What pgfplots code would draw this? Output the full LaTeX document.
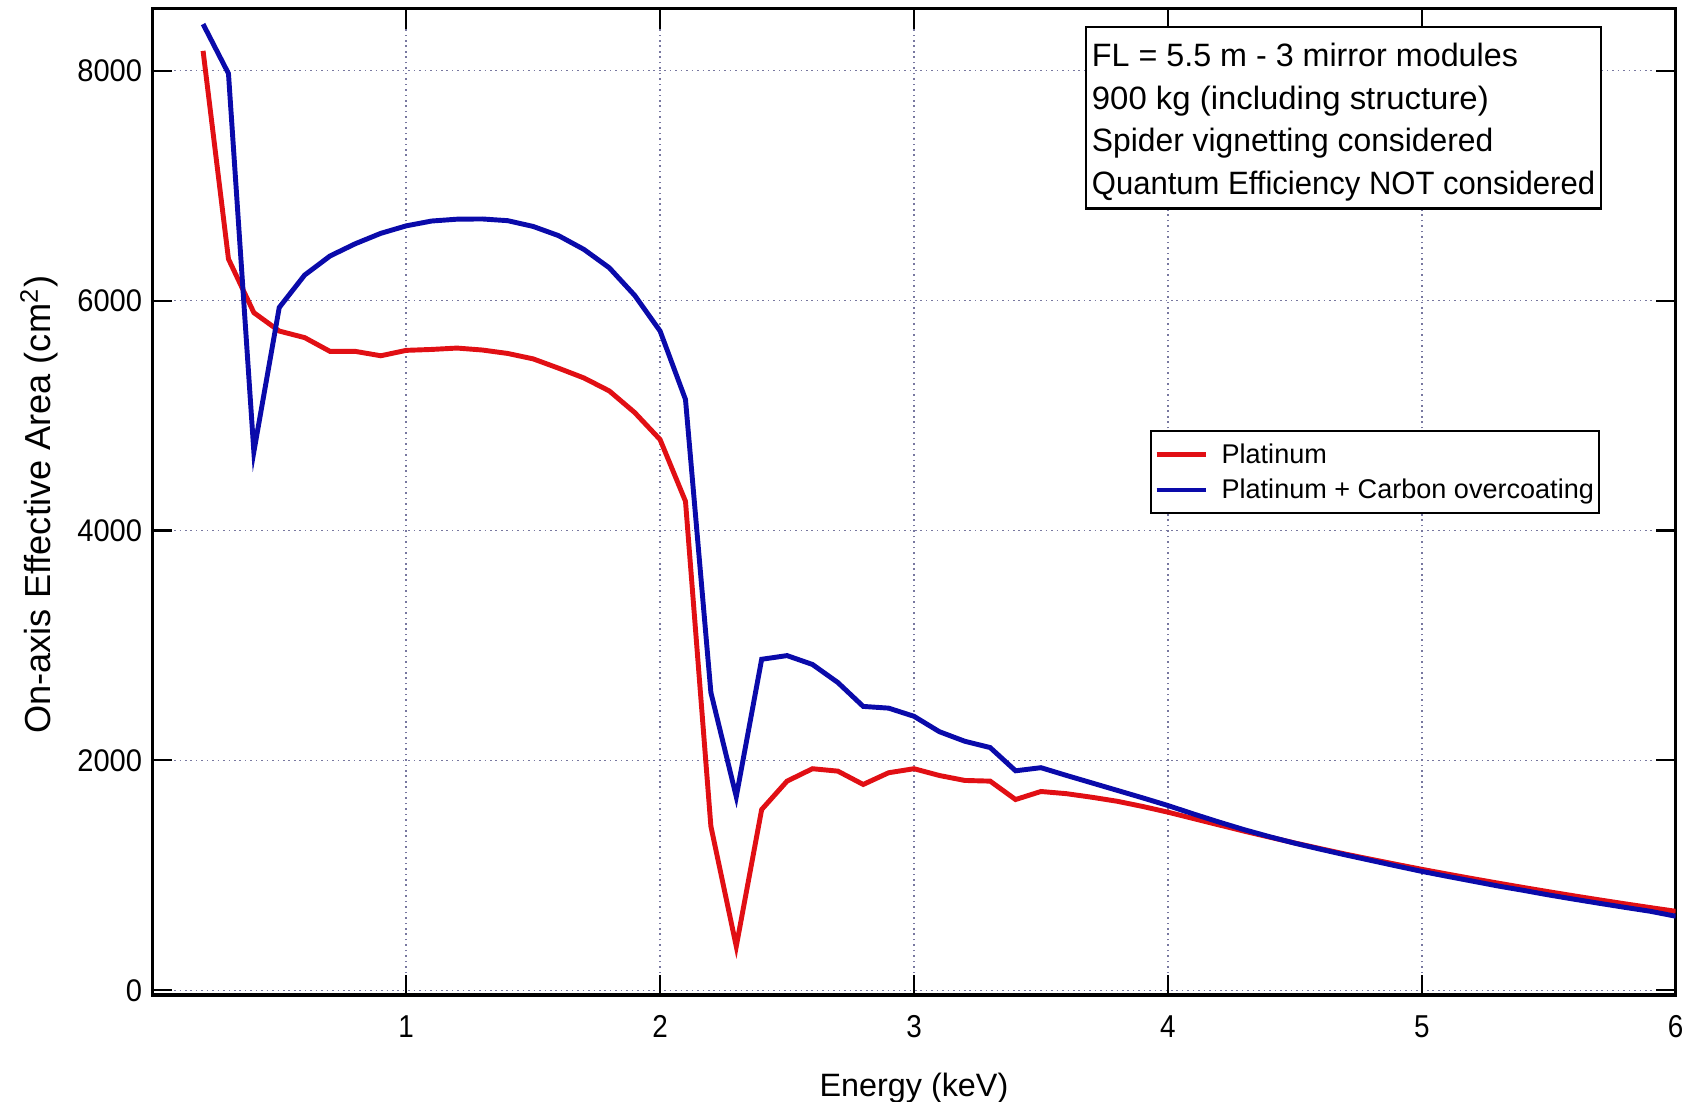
\documentclass[border=0pt]{standalone}
\usepackage{pgfplots}
\pgfplotsset{compat=1.18}
\usepackage{fontspec}
\setmainfont{Liberation Sans}
\newfontfamily\ytfont{Liberation Sans}[FakeStretch=0.93]
\newfontfamily\xtfont{Liberation Sans}[FakeStretch=0.88]
\newfontfamily\boxfont{Liberation Sans}[FakeStretch=0.96]
\definecolor{plred}{RGB}{225,15,20}
\definecolor{plblue}{RGB}{10,10,170}
\definecolor{gridc}{RGB}{120,120,160}

\pgfplotstableread{
x y
0.2 8172
0.3 6362
0.4 5895
0.5 5735
0.6 5678
0.7 5558
0.8 5558
0.9 5520
1.0 5567
1.1 5575
1.2 5587
1.3 5570
1.4 5540
1.5 5493
1.6 5412
1.7 5327
1.8 5214
1.9 5026
2.0 4791
2.1 4254
2.2 1428
2.3 383
2.4 1573
2.5 1820
2.6 1928
2.7 1907
2.8 1791
2.9 1893
3.0 1928
3.1 1869
3.2 1826
3.3 1820
3.4 1660
3.5 1730
3.6 1711
3.7 1680
3.8 1645
3.9 1600
4.0 1550
4.1 1495
4.2 1440
4.3 1385
4.4 1333
4.5 1282
4.6 1233
4.7 1185
4.8 1140
4.9 1096
5.0 1053
5.1 1012
5.2 972
5.3 933
5.4 895
5.5 858
5.6 822
5.7 787
5.8 753
5.9 720
6.0 688
}\platinum

\pgfplotstableread{
x y
0.2 8405
0.3 7975
0.4 4685
0.5 5940
0.6 6222
0.7 6388
0.8 6495
0.9 6585
1.0 6650
1.1 6692
1.2 6708
1.3 6710
1.4 6695
1.5 6645
1.6 6565
1.7 6445
1.8 6285
1.9 6045
2.0 5735
2.1 5140
2.2 2592
2.3 1685
2.4 2880
2.5 2912
2.6 2835
2.7 2678
2.8 2470
2.9 2455
3.0 2384
3.1 2250
3.2 2167
3.3 2112
3.4 1910
3.5 1937
3.6 1870
3.7 1805
3.8 1740
3.9 1675
4.0 1608
4.1 1535
4.2 1465
4.3 1398
4.4 1337
4.5 1280
4.6 1228
4.7 1178
4.8 1130
4.9 1082
5.0 1035
5.1 992
5.2 950
5.3 908
5.4 870
5.5 830
5.6 793
5.7 757
5.8 722
5.9 688
6.0 645
}\carbon

\begin{document}
\begin{tikzpicture}
\begin{axis}[
  name=ax, at={(0,0)}, anchor=south west,
  scale only axis, width=152.34mm, height=98.64mm,
  xmin=0, xmax=6, ymin=-40, ymax=8540,
  xtick={1,2,3,4,5,6}, ytick={0,2000,4000,6000,8000},
  /pgf/number format/assume math mode=true,
  /pgf/number format/1000 sep={},
  tick align=inside, major tick length=2mm,
  tick style={black, line width=0.6pt},
  axis line style={black, line width=0.9pt},
  grid=major,
  major grid style={gridc, line width=0.4pt, dash pattern=on 0.45pt off 1.1pt},
  xticklabel style={anchor=north, inner sep=0pt, yshift=-2mm, font=\xtfont\fontsize{9}{10}\selectfont},
  yticklabel style={anchor=east, inner sep=0pt, xshift=-0.95mm, font=\ytfont\fontsize{8.9}{9}\selectfont},
  xlabel={Energy (keV)},
  xlabel style={at={(axis description cs:0.5,0)}, anchor=north, inner sep=0pt, yshift=-7.75mm, font=\fontsize{9.2}{10}\selectfont},
  ylabel={On-axis Effective Area (cm\textsuperscript{2})},
  ylabel style={at={(axis description cs:-0.0742,0.497)}, anchor=center, inner sep=0pt, font=\fontsize{10.3}{11}\selectfont},
  legend image code/.code={\path (0mm,0mm) -- (0.8mm,0mm);\draw[#1] (0.8mm,0mm) -- (4.9mm,0mm);},
  legend cell align=left,
  legend style={at={(axis description cs:0.9503,0.5728)}, anchor=north east,
    draw=black, line width=0.6pt, fill=white,
    inner xsep=0.35mm, inner ysep=0.55mm,
    font=\fontsize{7.7}{9}\selectfont,
    nodes={inner xsep=0.15mm, inner ysep=0.2mm, text height=0.7em, text depth=0.2em},
    row sep=0pt, column sep=1.2mm},
]
\addplot[plred, line width=1.4pt] table[x=x,y=y] {\platinum};
\addlegendentry{Platinum}
\addplot[plblue, line width=1.4pt] table[x=x,y=y] {\carbon};
\addlegendentry{Platinum + Carbon overcoating}

\draw[line width=0.6pt, fill=white] (axis description cs:0.6128,0.7973) rectangle (axis description cs:0.9511,0.9813);
\node[anchor=base west, inner sep=0pt, xscale=1.04, font=\boxfont\fontsize{9.2}{11}\selectfont] at (axis description cs:0.6163,0.9417) {FL = 5.5 m - 3 mirror modules};
\node[anchor=base west, inner sep=0pt, xscale=1.06, font=\boxfont\fontsize{9.2}{11}\selectfont] at (axis description cs:0.6163,0.8980) {900 kg (including structure)};
\node[anchor=base west, inner sep=0pt, xscale=1.025, font=\boxfont\fontsize{9.2}{11}\selectfont] at (axis description cs:0.6163,0.8552) {Spider vignetting considered};
\node[anchor=base west, inner sep=0pt, font=\boxfont\fontsize{9.2}{11}\selectfont] at (axis description cs:0.6163,0.8113) {Quantum Efficiency NOT considered};
\end{axis}
\pgfresetboundingbox
\path[use as bounding box] ([shift={(-15.23mm,-10.7mm)}]ax.south west) rectangle ([shift={(1.83mm,0.86mm)}]ax.north east);
\end{tikzpicture}
\end{document}
